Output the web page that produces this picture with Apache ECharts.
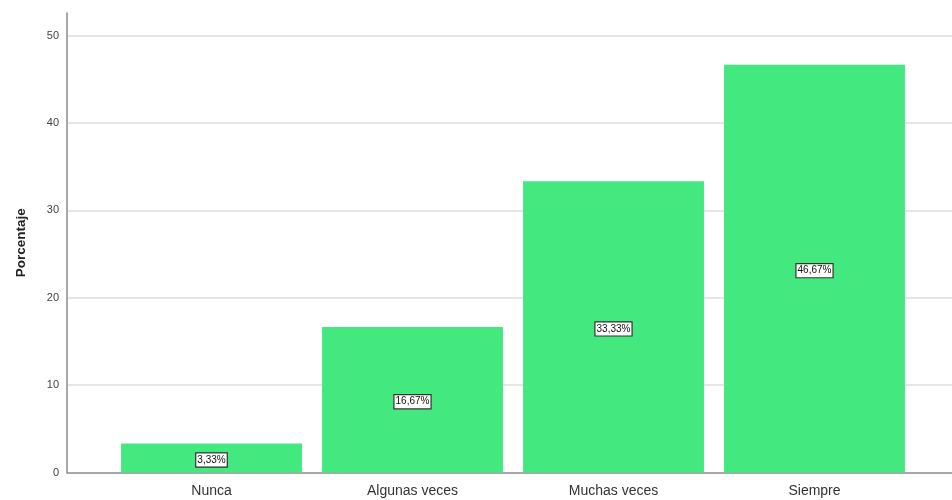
<!DOCTYPE html>
<html><head><meta charset="utf-8">
<script src="https://cdn.jsdelivr.net/npm/echarts@6/dist/echarts.min.js"></script>
<style>html,body{margin:0;padding:0;background:#fff}#c{width:952px;height:500px}</style>
</head><body><div id="c"></div>
<script>
const categories = ['Nunca', 'Algunas veces', 'Muchas veces', 'Siempre'];
const percentages = [3.33, 16.67, 33.33, 46.67];
const yTicks = [0, 10, 20, 30, 40, 50];
const yTitle = 'Porcentaje';

const chart = echarts.init(document.getElementById('c'));
const yMax = 52.6;
const font = 'Liberation Sans, Arial, sans-serif';
chart.setOption({
  animation: false,
  grid: [
    {left: 67, right: 0, top: 13, bottom: 27.5},
    {left: 111, width: 804, top: 13, bottom: 27.5}
  ],
  xAxis: [
    {gridIndex: 0, type: 'value', min: 0, max: 1,
     axisLine: {show: true, onZero: false, lineStyle: {color: '#8c8c8c', width: 1.5}},
     axisTick: {show: false}, axisLabel: {show: false}, splitLine: {show: false}},
    {gridIndex: 1, type: 'category', data: categories,
     axisLine: {show: false}, axisTick: {show: false},
     axisLabel: {color: '#333', fontSize: 14, fontFamily: font, margin: 12}}
  ],
  yAxis: [
    {gridIndex: 0, type: 'value', min: 0, max: yMax, interval: 10,
     name: yTitle, nameLocation: 'middle', nameGap: 39,
     nameTextStyle: {fontWeight: 'bold', fontSize: 13.5, color: '#222', fontFamily: font},
     axisLine: {show: true, lineStyle: {color: '#8c8c8c', width: 1.5}},
     axisTick: {show: false},
     axisLabel: {color: '#444', fontSize: 11, fontFamily: font, margin: 8, showMaxLabel: false,
       formatter: v => yTicks.includes(v) ? String(v) : ''},
     splitLine: {show: true, showMinLine: false, showMaxLine: false, lineStyle: {color: '#dcdcdc', width: 1.5}}},
    {gridIndex: 1, type: 'value', min: 0, max: yMax, show: false, splitLine: {show: false}}
  ],
  series: [{
    type: 'bar', xAxisIndex: 1, yAxisIndex: 1,
    data: percentages, barCategoryGap: '10%',
    itemStyle: {color: '#43E97E'},
    label: {show: true, position: 'inside', offset: [0, 2], color: '#111', fontSize: 10, fontFamily: font,
      backgroundColor: '#fff', borderColor: '#333', borderWidth: 1.2, padding: [2, 1, 1, 1],
      formatter: p => p.value.toFixed(2).replace('.', ',') + '%'}
  }]
});
</script></body></html>
